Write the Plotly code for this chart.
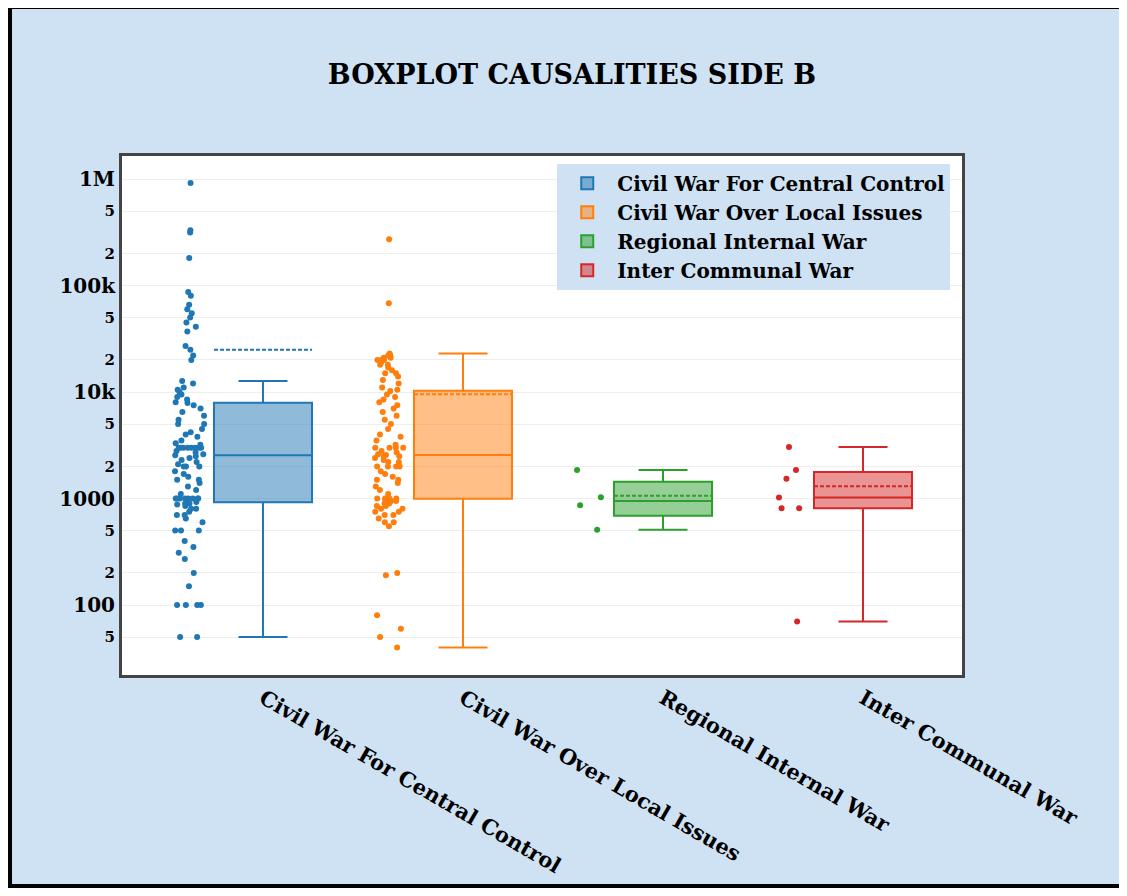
import plotly.graph_objs as go

# categories / legend names
names = ['Civil War For Central Control', 'Civil War Over Local Issues',
         'Regional Internal War', 'Inter Communal War']

# casualties side B
central_control = [50, 50, 100, 100, 100, 100, 150, 200, 270, 310, 350, 400, 500, 500, 500,
                   600, 650, 700, 700, 750, 800, 800, 850, 880, 900, 900, 930,
                   1000, 1000, 1000, 1000, 1000, 1000, 1000, 1000, 1100, 1200,
                   1300, 1400, 1500, 1500, 1600, 1700, 1800, 2000, 2000, 2000, 2100, 2200, 2300, 2400, 2500,
                   2550,
                   2600, 2700, 2800, 3000, 3000, 3000, 3000, 3000, 3000, 3000, 3000, 3200, 3300, 3500, 3800,
                   4000, 4200, 4500, 5000, 5000, 5500, 6000, 6500, 7000, 7500,
                   7900,
                   8000, 8500, 9000, 9500, 10000, 10500, 11000, 12000, 12700,
                   20000, 22000, 25000, 27000, 37000, 41000, 45000, 50000, 55000, 60000, 66000,
                   80000, 87000, 181000, 315000, 330000, 917000]
local_issues = [40, 50, 60, 80, 190, 200,
                550, 600, 600, 650, 700, 700, 750, 750, 800, 800, 850, 850, 900, 900, 950, 950, 980,
                1000, 1000, 1000, 1000, 1100, 1200, 1300, 1400, 1500, 1500, 1600, 1700, 1800,
                2000, 2000, 2000, 2000, 2200, 2200, 2300, 2400, 2500, 2500,
                2560,
                2600, 2700, 2800, 3000, 3000, 3000, 3000, 3200, 3500, 3800, 4000, 4500,
                5000, 5500, 6000, 6500, 7000, 7500, 8000, 8500, 9000, 9500,
                10200,
                10500, 11000, 12000, 13000, 14000, 15000, 15000, 16000, 17000, 18000, 18000, 19000,
                20000, 20000, 20000, 21000, 21000, 22000, 22000, 22000, 23000, 68000, 272000]
regional = [510, 865, 1030, 1850]
communal = [70, 810, 810, 1020, 1530, 1850, 3050]

series = [central_control, local_issues, regional, communal]
colors = ['#1f77b4', '#ff7f0e', '#2ca02c', '#d62728']

font_family = 'DejaVu Serif'
blue_bg = '#cfe2f3'

data = []
for name, vals, col in zip(names, series, colors):
    data.append(go.Box(
        y=vals,
        name=name,
        boxpoints='all',
        boxmean=True,
        marker=dict(color=col, size=6),
        line=dict(color=col, width=2),
    ))

fig = go.Figure(data=data)

fig.update_layout(
    width=1119,
    height=880,
    autosize=False,
    margin=dict(l=114, r=165, t=148, b=213),
    paper_bgcolor=blue_bg,
    plot_bgcolor='white',
    title=dict(text='BOXPLOT CAUSALITIES SIDE B', x=0.504, y=0.924,
               xanchor='center', yanchor='middle',
               font=dict(family=font_family, size=27, color='black', weight='bold')),
    font=dict(family=font_family, color='black', weight='bold'),
    legend=dict(x=0.986, y=0.985, xanchor='right', yanchor='top', itemwidth=50,
                bgcolor=blue_bg, font=dict(size=20, family=font_family, weight='bold')),
    shapes=[dict(type='rect', xref='paper', yref='paper',
                 x0=-0.1333, x1=1.3, y0=-0.4066, y1=1.287,
                 line=dict(color='black', width=4), layer='below')],
)

fig.update_xaxes(range=[-0.705, 3.495], tickangle=30, showgrid=False, automargin=False,
                 showline=True, mirror=True, linecolor='#444', linewidth=3,
                 tickfont=dict(size=21, family=font_family, weight='bold'))
fig.update_yaxes(type='log', range=[1.343, 6.216], dtick='D2', automargin=False,
                 showgrid=True, gridcolor='#eeeeee', zeroline=False,
                 showline=True, mirror=True, linecolor='#444', linewidth=3,
                 tickfont=dict(size=20, family=font_family, weight='bold'))

fig.write_html('out.html')
